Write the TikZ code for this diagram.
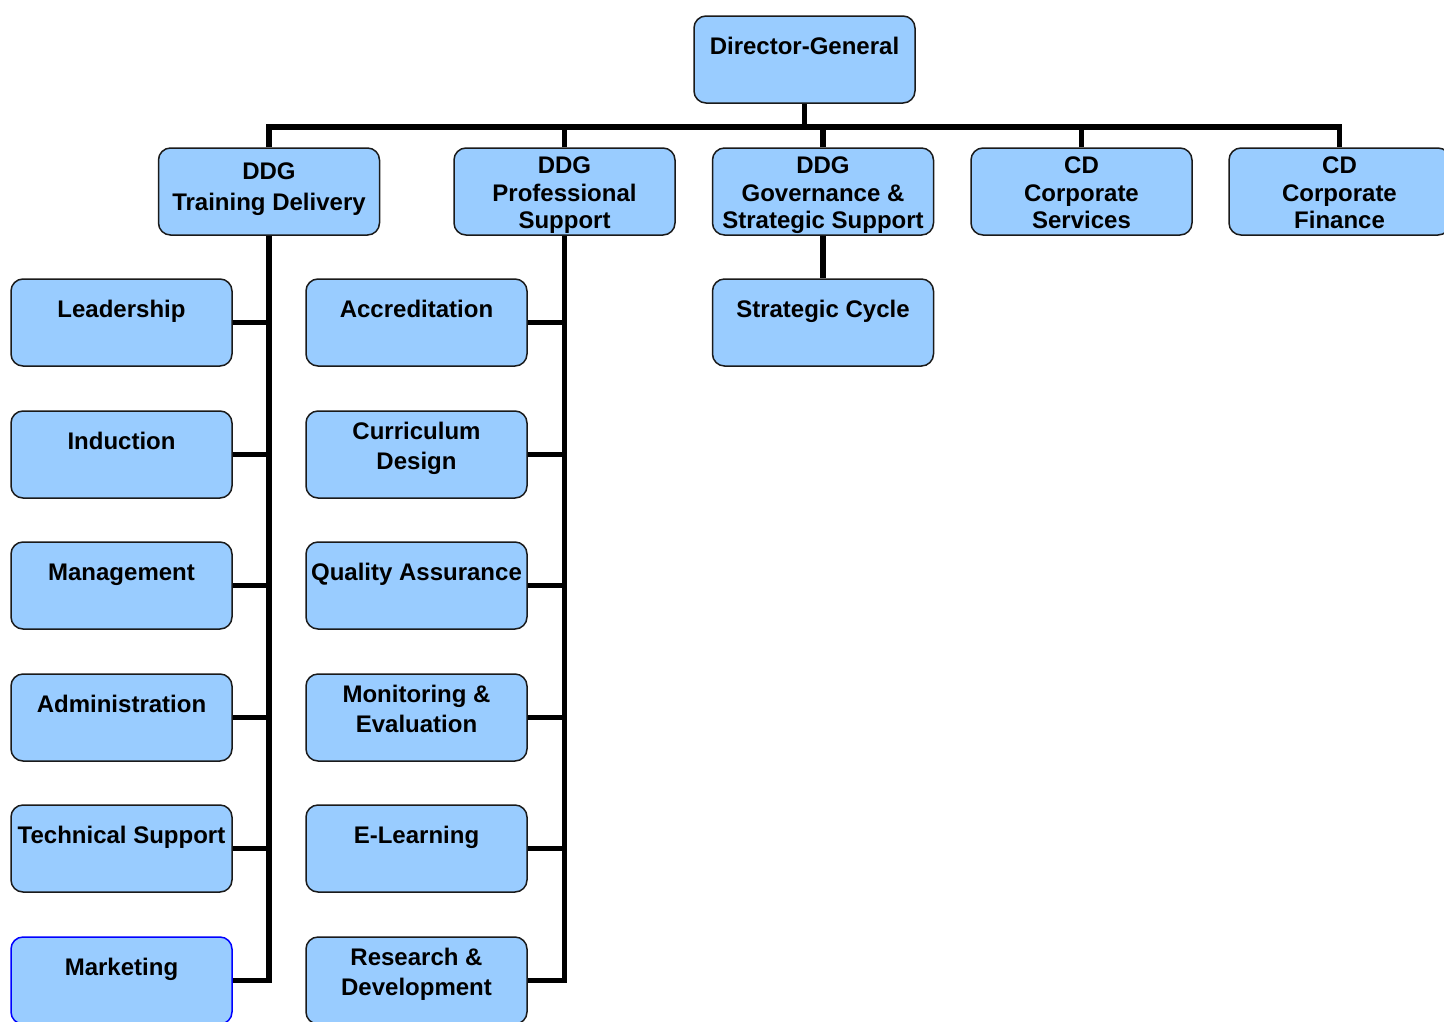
\documentclass[tikz,border=0pt]{standalone}
\usepackage{fontspec}
\setmainfont{Liberation Sans}
\usetikzlibrary{calc}
\definecolor{boxfill}{HTML}{99CCFF}
\definecolor{boxline}{HTML}{1A1A1A}
\begin{document}
\begin{tikzpicture}[x=1pt,y=-1pt,
  box/.style={draw=boxline,line width=1.5pt,fill=boxfill,rounded corners=12pt,
    minimum width=221pt,minimum height=87pt,inner sep=0pt},
  bluebox/.style={box,draw=blue},
  conn/.style={line width=5.5pt,draw=black},
  lbl/.style={anchor=base,inner sep=0pt,font=\bfseries\fontsize{24}{27}\selectfont}]
\clip (0,0) rectangle (1444,1021);
\fill[white] (0,0) rectangle (1444,1021);
% boxes
\node[box] (dg) at (804.5,59.5) {};
\node[box] (td) at (269,191.5) {};
\node[box] (ps) at (564.5,191.5) {};
\node[box] (gs) at (823,191.5) {};
\node[box] (cs) at (1081.5,191.5) {};
\node[box] (cf) at (1339.5,191.5) {};
\node[box] (sc) at (823,322.5) {};
\node[box] (l1) at (121.5,322.5) {};
\node[box] (l2) at (121.5,454.5) {};
\node[box] (l3) at (121.5,585.5) {};
\node[box] (l4) at (121.5,717.5) {};
\node[box] (l5) at (121.5,848.5) {};
\node[bluebox] (l6) at (121.5,980.5) {};
\node[box] (m1) at (416.5,322.5) {};
\node[box] (m2) at (416.5,454.5) {};
\node[box] (m3) at (416.5,585.5) {};
\node[box] (m4) at (416.5,717.5) {};
\node[box] (m5) at (416.5,848.5) {};
\node[box] (m6) at (416.5,980.5) {};
% connectors
\coordinate (bus) at (804.5,127);
\draw[conn] (td.north) |- (bus) -| (cf.north);
\draw[conn] (dg.south) -- (bus);
\draw[conn] (ps.north) -- (ps.north |- bus);
\draw[conn] (gs.north) -- (gs.north |- bus);
\draw[conn] (cs.north) -- (cs.north |- bus);
\draw[conn] (gs.south) -- (sc.north);
\draw[conn] (td.south) |- (l6.east);
\foreach \n in {l1,l2,l3,l4,l5} \draw[conn] (\n.east) -- (\n.east -| td.south);
\draw[conn] (ps.south) |- (m6.east);
\foreach \n in {m1,m2,m3,m4,m5} \draw[conn] (\n.east) -- (\n.east -| ps.south);
% labels
\node[lbl] (dg-a) at ($(dg.north)+(0,39)$) {Director-General};
\node[lbl] (td-a) at ($(td.north)+(0,32)$) {DDG};
\node[lbl] (td-b) at ($(td.north)+(0,63)$) {Training Delivery};
\node[lbl] (ps-a) at ($(ps.north)+(0,26.5)$) {DDG};
\node[lbl] (ps-b) at ($(ps.north)+(0,54)$) {Professional};
\node[lbl] (ps-c) at ($(ps.north)+(0,81.5)$) {Support};
\node[lbl] (gs-a) at ($(gs.north)+(0,26.5)$) {DDG};
\node[lbl] (gs-b) at ($(gs.north)+(0,54)$) {Governance \&};
\node[lbl] (gs-c) at ($(gs.north)+(0,81.5)$) {Strategic Support};
\node[lbl] (cs-a) at ($(cs.north)+(0,26.5)$) {CD};
\node[lbl] (cs-b) at ($(cs.north)+(0,54)$) {Corporate};
\node[lbl] (cs-c) at ($(cs.north)+(0,81.5)$) {Services};
\node[lbl] (cf-a) at ($(cf.north)+(0,26.5)$) {CD};
\node[lbl] (cf-b) at ($(cf.north)+(0,54)$) {Corporate};
\node[lbl] (cf-c) at ($(cf.north)+(0,81.5)$) {Finance};
\node[lbl] (sc-a) at ($(sc.north)+(0,39)$) {Strategic Cycle};
\node[lbl] (l1-a) at ($(l1.north)+(0,39)$) {Leadership};
\node[lbl] (l2-a) at ($(l2.north)+(0,39)$) {Induction};
\node[lbl] (l3-a) at ($(l3.north)+(0,39)$) {Management};
\node[lbl] (l4-a) at ($(l4.north)+(0,39)$) {Administration};
\node[lbl] (l5-a) at ($(l5.north)+(0,39)$) {Technical Support};
\node[lbl] (l6-a) at ($(l6.north)+(0,39)$) {Marketing};
\node[lbl] (m1-a) at ($(m1.north)+(0,39)$) {Accreditation};
\node[lbl] (m2-a) at ($(m2.north)+(0,29.5)$) {Curriculum};
\node[lbl] (m2-b) at ($(m2.north)+(0,59.5)$) {Design};
\node[lbl] (m3-a) at ($(m3.north)+(0,39)$) {Quality Assurance};
\node[lbl] (m4-a) at ($(m4.north)+(0,29.5)$) {Monitoring \&};
\node[lbl] (m4-b) at ($(m4.north)+(0,59.5)$) {Evaluation};
\node[lbl] (m5-a) at ($(m5.north)+(0,39)$) {E-Learning};
\node[lbl] (m6-a) at ($(m6.north)+(0,29.5)$) {Research \&};
\node[lbl] (m6-b) at ($(m6.north)+(0,59.5)$) {Development};
\end{tikzpicture}
\end{document}
